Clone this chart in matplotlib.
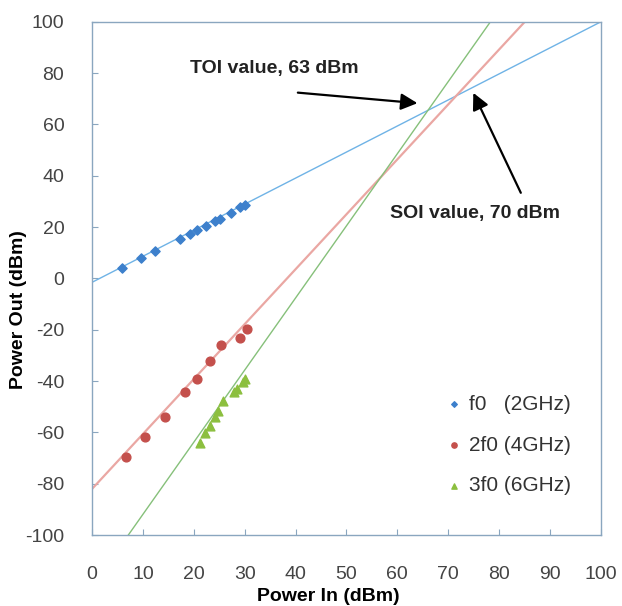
import numpy as np
import matplotlib
matplotlib.use("Agg")
import matplotlib.pyplot as plt

# measured points (Power In dBm, Power Out dBm)
f0_in = [5.9, 9.6, 12.4, 17.3, 19.3, 20.6, 22.4, 24.2, 25.1, 27.4, 29.1, 30.0]
f0_out = [3.9, 7.8, 10.6, 15.2, 17.2, 18.7, 20.4, 22.2, 23.1, 25.6, 27.8, 28.8]

h2_in = [6.7, 10.4, 14.3, 18.3, 20.7, 23.2, 25.3, 29.1, 30.4]
h2_out = [-69.7, -61.6, -53.8, -44.3, -39.1, -32.2, -26.1, -23.1, -19.6]

h3_in = [21.2, 22.2, 23.2, 24.2, 24.8, 25.7, 27.8, 28.4, 29.6, 30.0]
h3_out = [-64.2, -60.4, -57.3, -54.0, -51.5, -47.8, -44.3, -43.0, -40.4, -39.0]

# fitted trend lines: slope, intercept
f0_fit = (1.015, -1.5)
h2_fit = (2.14, -82.0)
h3_fit = (2.81, -120.0)

x_ticks = list(range(0, 101, 10))
y_ticks = list(range(-100, 101, 20))

plt.rcParams['font.family'] = ['Liberation Sans', 'DejaVu Sans']
plt.rcParams['axes.unicode_minus'] = False

fig = plt.figure(figsize=(6.22, 6.06), dpi=100)
ax = fig.add_axes([0.148, 0.117, 0.818, 0.847])

xs = np.array([0, 100])
ax.plot(xs, f0_fit[0] * xs + f0_fit[1], color="#6fb3e6", lw=1.0, zorder=2)
ax.plot(xs, h2_fit[0] * xs + h2_fit[1], color="#eaa7a3", lw=1.6, zorder=2)
ax.plot(xs, h3_fit[0] * xs + h3_fit[1], color="#86c07a", lw=1.0, zorder=2)

ax.scatter(f0_in, f0_out, marker="D", s=22, color="#3d80cc", label="f0   (2GHz)", zorder=3)
ax.scatter(h2_in, h2_out, marker="o", s=40, color="#c4504c", label="2f0 (4GHz)", zorder=3)
ax.scatter(h3_in, h3_out, marker="^", s=40, color="#8cbf3f", label="3f0 (6GHz)", zorder=3)

ax.set_xlim(0, 100)
ax.set_ylim(-100, 100)
ax.set_xticks(x_ticks)
ax.set_yticks(y_ticks)
ax.tick_params(direction="in", length=4, color="#8aa6bf", labelsize=14,
               labelcolor="#444444")
ax.tick_params(axis="y", pad=20)
ax.tick_params(axis="x", pad=22)
for s in ax.spines.values():
    s.set_color("#8aa6bf")
    s.set_linewidth(1.0)

ax.set_xlabel("Power In (dBm)", fontsize=14, fontweight="bold")
ax.set_ylabel("Power Out (dBm)", fontsize=14, fontweight="bold")
ax.xaxis.set_label_coords(0.464, -0.103)
ax.yaxis.set_label_coords(-0.128, 0.44)

ax.annotate("TOI value, 63 dBm", xy=(64, 68.2), xytext=(19.3, 81.9),
            fontsize=14, fontweight="bold", va="center", ha="left", color="#222222")
ax.annotate("", xy=(64.5, 68.2), xytext=(39.9, 72.5),
            arrowprops=dict(arrowstyle="-|>,head_length=1.0,head_width=0.5",
                            color="black", lw=1.6))
ax.text(58.5, 25.3, "SOI value, 70 dBm", fontsize=14, fontweight="bold",
        va="center", ha="left", color="#222222")
ax.annotate("", xy=(74.7, 73.3), xytext=(84.5, 32.4),
            arrowprops=dict(arrowstyle="-|>,head_length=1.0,head_width=0.5",
                            color="black", lw=1.6))

leg = ax.legend(loc="upper left", bbox_to_anchor=(0.655, 0.31), frameon=False,
                fontsize=15, labelspacing=1.05, handletextpad=0.2,
                handlelength=1.0, markerscale=0.6)
for t in leg.get_texts():
    t.set_color("#333333")

fig.savefig("out.png", dpi=100, facecolor="white")
